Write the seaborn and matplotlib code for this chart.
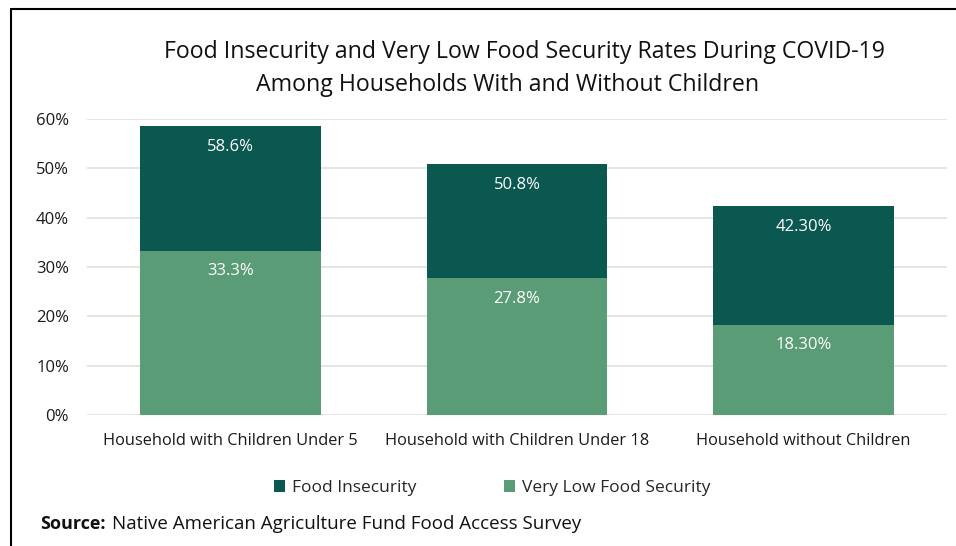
import matplotlib
matplotlib.use("Agg")
import matplotlib.pyplot as plt
import seaborn as sns
import pandas as pd
from matplotlib.patches import Patch
from matplotlib.ticker import FuncFormatter
from matplotlib.lines import Line2D

categories = ["Household with Children Under 5", "Household with Children Under 18", "Household without Children"]
food_insecurity = [58.6, 50.8, 42.3]
very_low = [33.3, 27.8, 18.3]
fi_labels = ["58.6%", "50.8%", "42.30%"]
vl_labels = ["33.3%", "27.8%", "18.30%"]
series_names = ["Food Insecurity", "Very Low Food Security"]
yticks = [0, 10, 20, 30, 40, 50, 60]

dark = "#0b5850"
light = "#5a9c76"

sns.set_theme(style="white")
plt.rcParams["font.family"] = ["Open Sans", "DejaVu Sans"]

fig = plt.figure(figsize=(9.56, 5.46), dpi=100)
ax = fig.add_axes([0.091, 0.2399, 0.8996, 0.542])

df = pd.DataFrame({"cat": categories, "fi": food_insecurity, "vl": very_low})
sns.barplot(data=df, x="cat", y="fi", color=dark, saturation=1, width=0.63, ax=ax,
            linewidth=0, edgecolor="none", zorder=3)
sns.barplot(data=df, x="cat", y="vl", color=light, saturation=1, width=0.63, ax=ax,
            linewidth=0, edgecolor="none", zorder=4)

for i, (f, v) in enumerate(zip(food_insecurity, very_low)):
    ax.text(i, f - 4.2, fi_labels[i], ha="center", va="center", color="white", fontsize=12, zorder=5)
    ax.text(i, v - 4.2, vl_labels[i], ha="center", va="center", color="white", fontsize=12, zorder=5)

ax.set_xlim(-0.5, 2.5)
ax.set_ylim(0, 60)
ax.set_yticks(yticks)
ax.yaxis.set_major_formatter(FuncFormatter(lambda v, p: f"{int(v)}%"))
ax.grid(axis="y", color="#e0e0e0", linewidth=1.2, zorder=0)
ax.set_axisbelow(True)
for s in ax.spines.values():
    s.set_visible(False)
ax.set_xlabel("")
ax.set_ylabel("")
ax.tick_params(axis="both", length=0, labelsize=12, colors="#1a1a1a")
ax.tick_params(axis="x", labelsize=11.8)
ax.tick_params(axis="y", pad=13)
ax.tick_params(axis="x", pad=13)

fig.text(0.549, 0.905, "Food Insecurity and Very Low Food Security Rates During COVID-19",
         ha="center", va="center", fontsize=16.7, color="#111111")
fig.text(0.531, 0.845, "Among Households With and Without Children",
         ha="center", va="center", fontsize=16.7, color="#111111")

handles = [Patch(facecolor=dark, edgecolor="none"), Patch(facecolor=light, edgecolor="none")]
fig.legend(handles, series_names, loc="center", bbox_to_anchor=(0.515, 0.106), ncol=2,
           frameon=False, fontsize=12.5, handlelength=0.65, handleheight=0.65,
           handletextpad=0.4, columnspacing=5.0)

fig.text(0.042, 0.04, "Source:", fontweight="bold", fontsize=13, ha="left", va="center", color="#111111")
fig.text(0.117, 0.04, "Native American Agriculture Fund Food Access Survey", fontsize=13.5,
         ha="left", va="center", color="#111111")

# frame lines (top and left)
fig.add_artist(Line2D([0.0115, 1.0], [0.983, 0.983], transform=fig.transFigure, color="black", linewidth=1.5))
fig.add_artist(Line2D([0.0115, 0.0115], [0.0, 0.983], transform=fig.transFigure, color="black", linewidth=1.5))

fig.savefig("out.png", dpi=100)
